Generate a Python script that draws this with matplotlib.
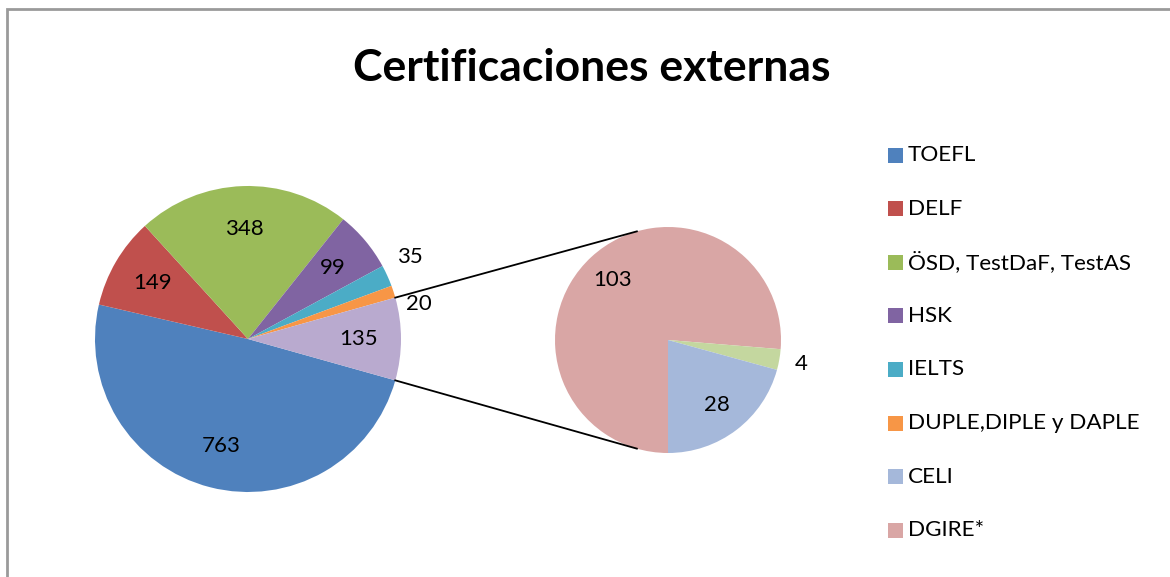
import numpy as np
import matplotlib
matplotlib.use("Agg")
import matplotlib.pyplot as plt
from matplotlib.patches import Rectangle

plt.rcParams['font.family'] = ['Lato', 'DejaVu Sans']

# main pie, clockwise from the right
main_labels = ["TOEFL", "DELF", "ÖSD, TestDaF, TestAS", "HSK", "IELTS",
               "DUPLE,DIPLE y DAPLE", "Otros"]
main_values = [763, 149, 348, 99, 35, 20, 135]
main_colors = ["#4F81BD", "#C0504D", "#9BBB59", "#8064A2", "#4BACC6",
               "#F79646", "#B9AACF"]

# second pie (break-down of "Otros")
sub_labels = ["DGIRE*", "", "CELI"]
sub_values = [103, 4, 28]
sub_colors = ["#D9A6A5", "#C4D79F", "#A5B8DA"]

legend_labels = ["TOEFL", "DELF", "ÖSD, TestDaF, TestAS", "HSK", "IELTS",
                 "DUPLE,DIPLE y DAPLE", "CELI", "DGIRE*"]
legend_colors = main_colors[:6] + [sub_colors[2], sub_colors[0]]

W, H = 1170, 577
fig = plt.figure(figsize=(W / 100, H / 100), dpi=100)
ax = fig.add_axes([0, 0, 1, 1])

c1, r1 = (248, H - 339), 153
c2, r2 = (668, H - 340), 113

other_angle = main_values[-1] / sum(main_values) * 360
start1 = -other_angle / 2
w1, _ = ax.pie(main_values, colors=main_colors, startangle=start1,
               counterclock=False, center=c1, radius=r1,
               wedgeprops=dict(linewidth=0))
w2, _ = ax.pie(sub_values, colors=sub_colors, startangle=-90,
               counterclock=False, center=c2, radius=r2,
               wedgeprops=dict(linewidth=0))

# small hand nudges for the crowded outside labels (pixels)
nudge1 = {4: (-5, 6), 5: (-4, -22)}


def put_labels(wedges, values, center, radius, small, nudge={}):
    for i, (w, v) in enumerate(zip(wedges, values)):
        mid = np.radians((w.theta1 + w.theta2) / 2)
        f = 1.2 if v < small else 0.72
        dx, dy = nudge.get(i, (0, 0))
        x = center[0] + f * radius * np.cos(mid) + dx
        y = center[1] + f * radius * np.sin(mid) + dy
        ax.text(x, y, str(v), ha="center", va="center", fontsize=16,
                color="black")


put_labels(w1, main_values, c1, r1, 40, nudge1)
put_labels(w2, sub_values, c2, r2, 10)

# connector lines between the two pies
for s in (1, -1):
    a1 = np.radians(s * other_angle / 2)
    a2 = np.radians(s * 106)
    ax.plot([c1[0] + r1 * np.cos(a1), c2[0] + r2 * np.cos(a2)],
            [c1[1] + r1 * np.sin(a1), c2[1] + r2 * np.sin(a2)],
            color="black", lw=1.3)

# legend
for i, (lab, col) in enumerate(zip(legend_labels, legend_colors)):
    y = H - (155 + i * 53.6)
    ax.add_patch(Rectangle((888, y - 7.5), 15, 15, color=col, lw=0))
    ax.text(908, y, lab, ha="left", va="center", fontsize=16.2, color="black")

ax.text(592, H - 68, "Certificaciones externas", ha="center", va="center",
        fontsize=32, fontweight="bold", color="black")

# chart frame
ax.add_patch(Rectangle((6.5, -20), W + 40, H - 8.5 + 20, fill=False,
                       edgecolor="#9a9a9a", lw=2, clip_on=False))

ax.set_xlim(0, W)
ax.set_ylim(0, H)
ax.set_aspect("equal")
ax.axis("off")

fig.savefig("out.png", dpi=100)
